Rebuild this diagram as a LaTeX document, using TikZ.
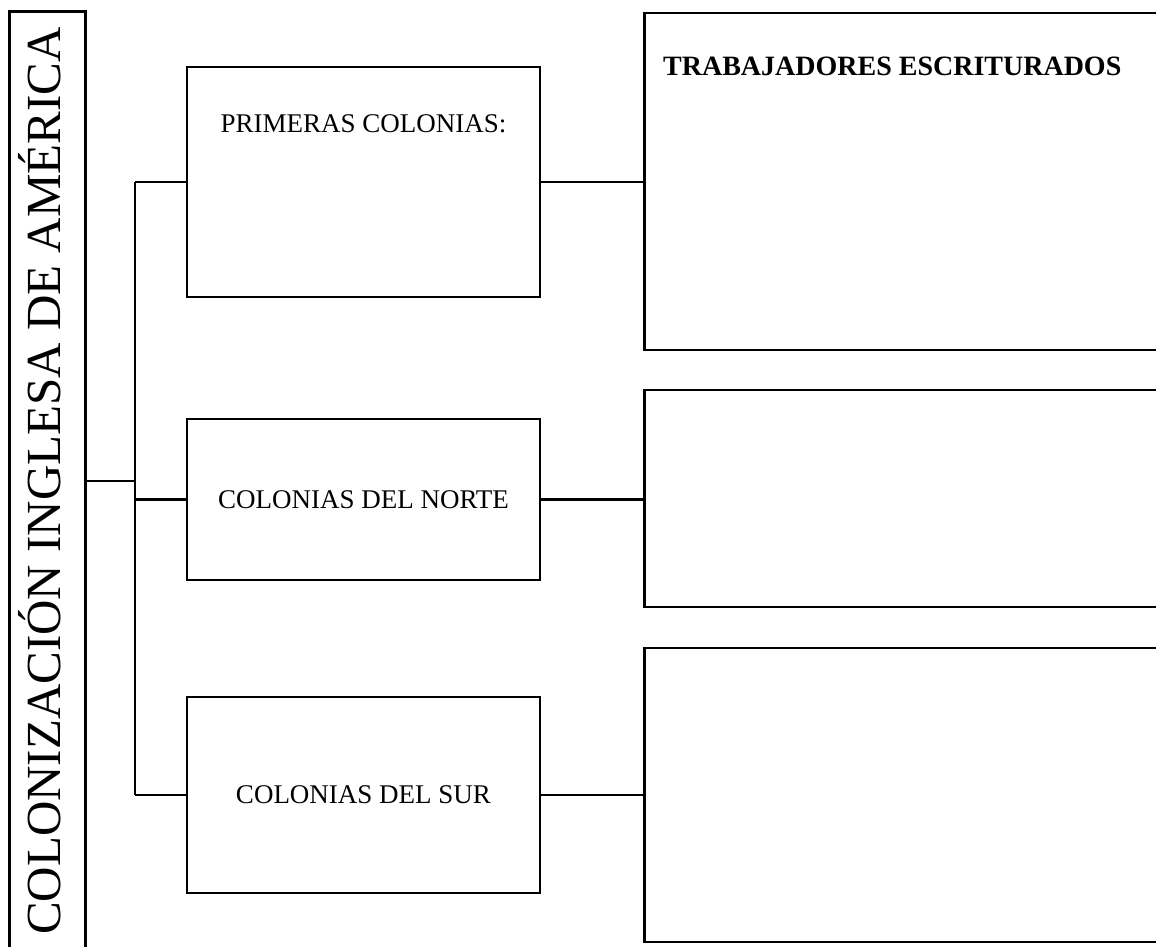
\documentclass[tikz,border=0pt]{standalone}
\usepackage{fontspec}
\setmainfont{Liberation Serif}
\usetikzlibrary{positioning}
\tikzstyle{caja}=[draw,rectangle,line width=2.6pt,inner sep=0pt,font=\fontsize{27}{32}\selectfont]
\tikzstyle{texto}=[inner sep=0pt,font=\fontsize{27}{32}\selectfont]
\tikzstyle{rama}=[draw,line width=2.6pt,-]

\begin{document}
\begin{tikzpicture}[x=1pt,y=-1pt]
    \useasboundingbox (0,0) rectangle (1156,947);
    \clip (0,0) rectangle (1156,947);

    % Title box on the left
    \node[caja,minimum width=76pt,minimum height=960pt,anchor=north west] (titulo) at (8,10) {};
    \node[rotate=90,anchor=base,inner sep=0pt,font=\fontsize{49}{58}\selectfont] (tituloTexto) at (60,481) {COLONIZACIÓN INGLESA DE AMÉRICA};

    % Middle boxes
    \foreach \pos/\alto/\name/\txt in {{(363.5,182)/230pt/m1/{}}, {(363.5,499.5)/161pt/m2/{COLONIAS DEL NORTE}}, {(363.5,795)/196pt/m3/{COLONIAS DEL SUR}}}
        \node[caja,minimum width=353pt,minimum height=\alto] (\name) at \pos {\txt};
    \node[texto,below=49pt of m1.north] (m1Texto) {PRIMERAS COLONIAS:};

    % Right boxes (cut off at the page edge)
    \foreach \pos/\alto/\name in {{(643,181.5)/337pt/d1}, {(643,498.5)/217pt/d2}, {(643,795)/294pt/d3}}
        \node[caja,minimum width=540pt,minimum height=\alto,anchor=west] (\name) at \pos {};
    \node[inner sep=0pt,anchor=base west,font=\fontsize{28}{33}\selectfont\bfseries] (d1Texto) at (663,76) {TRABAJADORES ESCRITURADOS};

    % Connect the boxes
    \coordinate (nudo) at (135,481);
    \path[rama] (titulo.east |- nudo) -- (nudo);
    \path[rama] (nudo |- m1) -- (nudo |- m3);
    \foreach \source/\dest in {m1/d1, m2/d2, m3/d3} {
        \path[rama] (nudo |- \source) -- (\source.west);
        \path[rama] (\source.east) -- (\source.east -| \dest.west);
    }
\end{tikzpicture}
\end{document}
